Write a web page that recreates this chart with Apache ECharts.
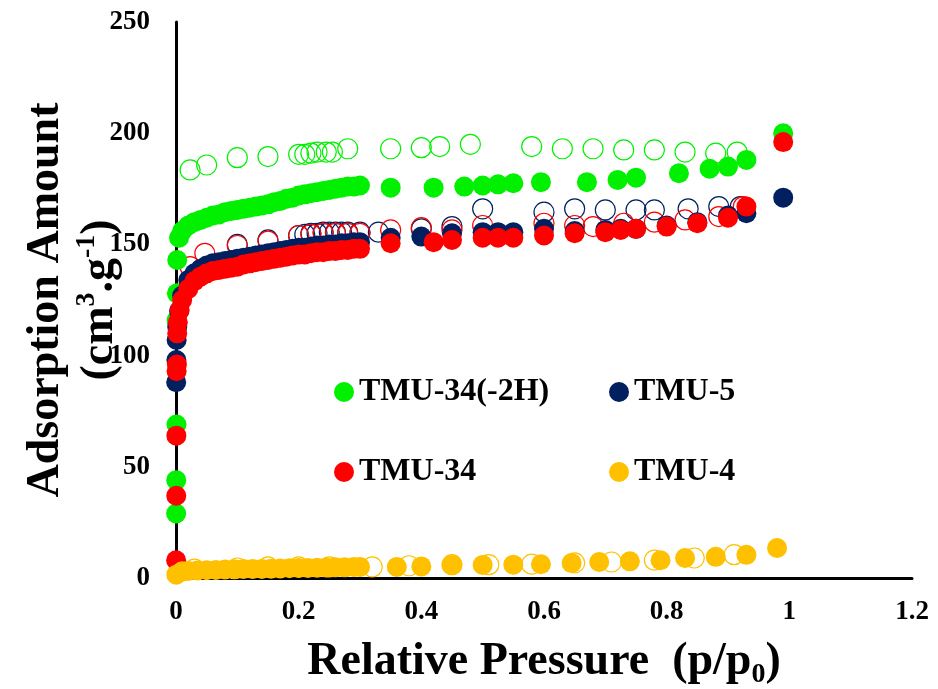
<!DOCTYPE html>
<html>
<head>
<meta charset="utf-8">
<script src="https://cdn.jsdelivr.net/npm/echarts@6/dist/echarts.min.js"></script>
<style>
html,body{margin:0;padding:0;background:#fff;}
#chart{width:938px;height:689px;}
</style>
</head>
<body>
<div id="chart"></div>
<script>
// ---- Data (p/p0, adsorbed amount) ----
const xTicks = [0, 0.2, 0.4, 0.6, 0.8, 1, 1.2];
const yTicks = [0, 50, 100, 150, 200, 250];

const tmu34_2H_ads = [[0.0002,29],[0.0004,44],[0.0008,69],[0.001,116],[0.0015,128],[0.002,143],[0.005,153],[0.01,156],[0.02,158.5],[0.03,160],[0.04,161],[0.05,162],[0.06,163],[0.07,163.5],[0.08,164.5],[0.09,165],[0.10,165.5],[0.11,166],[0.12,166.5],[0.13,167],[0.14,167.5],[0.15,168],[0.16,169],[0.17,169.5],[0.18,170.5],[0.19,171],[0.20,172],[0.21,172.5],[0.22,173],[0.23,173.5],[0.24,174],[0.25,174.5],[0.26,175],[0.27,175.5],[0.28,176],[0.29,176],[0.30,176.5],[0.35,175.5],[0.42,175.5],[0.47,176],[0.50,176.5],[0.525,177],[0.55,177.5],[0.595,178],[0.67,178],[0.72,179],[0.75,180],[0.82,182],[0.87,184],[0.90,185],[0.93,188],[0.99,200]];
const tmu34_2H_des = [[0.023,183.5],[0.05,185.7],[0.10,189],[0.15,189.5],[0.20,190.5],[0.21,190.5],[0.22,191],[0.23,191.5],[0.245,191.5],[0.255,191.5],[0.28,193],[0.35,193],[0.40,193.5],[0.43,194],[0.48,195],[0.58,194],[0.63,193],[0.68,193],[0.73,192.5],[0.78,192.5],[0.83,191.5],[0.88,191],[0.915,191.5]];

const tmu5_ads = [[0.0003,88],[0.0006,98],[0.001,107],[0.002,113],[0.005,120],[0.01,127],[0.02,134],[0.03,137],[0.04,139],[0.05,140.5],[0.06,141.5],[0.07,142],[0.08,142.5],[0.09,143],[0.10,143.5],[0.11,144],[0.12,144.5],[0.13,145],[0.14,145.5],[0.15,146],[0.16,146.5],[0.17,147],[0.18,147.5],[0.19,148],[0.20,148.5],[0.21,148.5],[0.22,149],[0.23,149.5],[0.24,149.5],[0.25,150],[0.26,150],[0.27,150.5],[0.28,150.5],[0.29,151],[0.30,151],[0.35,153],[0.40,153.5],[0.45,155],[0.50,155.5],[0.525,155.5],[0.55,155.5],[0.60,157],[0.65,156],[0.70,156.5],[0.725,157],[0.75,157],[0.80,158.5],[0.85,160],[0.90,163],[0.93,164],[0.99,171]];
const tmu5_des = [[0.10,150],[0.15,152],[0.20,154],[0.21,154.5],[0.22,155],[0.23,155],[0.24,155.5],[0.25,155.5],[0.26,155.5],[0.27,155.5],[0.28,155.5],[0.30,155.5],[0.33,155.5],[0.40,157],[0.45,158],[0.50,166],[0.60,164.5],[0.65,166],[0.70,165.5],[0.75,165.5],[0.78,165.5],[0.835,166],[0.885,167],[0.92,167]];

const tmu34_ads = [[0.0002,8],[0.0004,37],[0.0006,64],[0.001,93],[0.0015,96],[0.002,110],[0.003,115],[0.006,120.5],[0.01,125],[0.02,130],[0.03,133.5],[0.04,135.5],[0.05,137],[0.06,138],[0.07,138.5],[0.08,139],[0.09,139.5],[0.10,140],[0.11,141],[0.12,141.5],[0.13,142],[0.14,142.5],[0.15,143],[0.16,143.5],[0.17,144],[0.18,144.5],[0.19,145],[0.20,145.5],[0.21,145.5],[0.22,146],[0.23,146.5],[0.24,146.5],[0.25,147],[0.26,147],[0.27,147.5],[0.28,147.5],[0.29,148],[0.30,148],[0.35,150.5],[0.42,151],[0.45,152],[0.50,153],[0.525,153],[0.55,153],[0.60,154],[0.65,155],[0.70,155.5],[0.725,156.5],[0.75,157],[0.80,158],[0.85,159.5],[0.90,162],[0.93,167],[0.99,196]];
const tmu34_des = [[0.023,140],[0.047,146],[0.10,149.5],[0.15,151.5],[0.20,154],[0.22,154.5],[0.24,155],[0.26,155],[0.28,155],[0.30,155],[0.35,156.5],[0.40,157.5],[0.45,156.5],[0.50,158.5],[0.60,159.5],[0.65,158.5],[0.68,158],[0.73,159.5],[0.78,160],[0.83,161],[0.885,162.5],[0.925,167]];

const tmu4_ads = [[0.0005,1.5],[0.01,3],[0.02,3.2],[0.035,3.4],[0.05,3.5],[0.065,3.6],[0.08,3.8],[0.095,3.9],[0.11,4],[0.125,4],[0.14,4.1],[0.155,4.2],[0.17,4.3],[0.185,4.4],[0.20,4.5],[0.215,4.5],[0.23,4.6],[0.245,4.7],[0.26,4.8],[0.275,4.8],[0.29,4.9],[0.30,5],[0.36,5],[0.40,5.2],[0.45,5.8],[0.50,5.9],[0.55,6],[0.595,6.2],[0.645,6.7],[0.69,7.2],[0.74,7.5],[0.79,8],[0.83,9],[0.88,9.5],[0.93,10.4],[0.98,13.5]];
const tmu4_des = [[0.03,4],[0.10,4.5],[0.15,5],[0.20,5],[0.25,5],[0.32,5],[0.38,5.5],[0.45,6],[0.51,6],[0.58,6.2],[0.65,6.8],[0.71,7.2],[0.78,8],[0.845,9],[0.91,10.5]];

const names = ['TMU-34(-2H)', 'TMU-5', 'TMU-34', 'TMU-4'];
const colors = ['#00F000', '#002060', '#FF0000', '#FFC000'];

// ---- Chart ----
const FONT = '"Liberation Serif", "Times New Roman", serif';
const SYM = 20;

function filled(name, data, color) {
  return { name: name, type: 'scatter', data: data, symbol: 'circle', symbolSize: SYM,
    itemStyle: { color: color, opacity: 1 }, emphasis: { disabled: true }, z: 3 };
}
function open(name, data, color) {
  return { name: name + ' desorption', type: 'scatter', data: data, symbol: 'circle', symbolSize: SYM,
    itemStyle: { color: 'rgba(0,0,0,0)', borderColor: color, borderWidth: 1.2, opacity: 1 },
    emphasis: { disabled: true }, z: 2 };
}

const legendText = { fontFamily: FONT, fontWeight: 'bold', fontSize: 32, color: '#000', lineHeight: 34 };

const option = {
  animation: false,
  backgroundColor: '#fff',
  grid: { left: 176, top: 22, right: 26, bottom: 111, containLabel: false, outerBoundsMode: 'none' },
  xAxis: {
    type: 'value', min: xTicks[0], max: xTicks[xTicks.length - 1], interval: 0.2,
    axisLine: { show: true, onZero: false, lineStyle: { color: '#000', width: 3 } },
    axisTick: { show: false }, splitLine: { show: false },
    axisLabel: { margin: 21, fontFamily: FONT, fontWeight: 'bold', fontSize: 27, color: '#000',
      formatter: function (v) { return String(+v.toFixed(1)); } },
    name: 'Relative Pressure  (p/p{sub|0})', nameLocation: 'middle', nameGap: 57, nameMoveOverlap: false,
    nameTextStyle: { fontFamily: FONT, fontWeight: 'bold', fontSize: 46, color: '#000',
      rich: { sub: { fontFamily: FONT, fontWeight: 'bold', fontSize: 28, color: '#000', verticalAlign: 'bottom', padding: [26, 0, 0, 0] } } }
  },
  yAxis: {
    type: 'value', min: yTicks[0], max: yTicks[yTicks.length - 1], interval: 50,
    axisLine: { show: true, onZero: false, lineStyle: { color: '#000', width: 3 } },
    axisTick: { show: false }, splitLine: { show: false },
    axisLabel: { margin: 26, fontFamily: FONT, fontWeight: 'bold', fontSize: 27, color: '#000' },
    name: 'Adsorption Amount\n(cm{sup|3}.g{sup|-1})', nameLocation: 'middle', nameGap: 49, nameRotate: 90, nameMoveOverlap: false,
    nameTextStyle: { fontFamily: FONT, fontWeight: 'bold', fontSize: 46, color: '#000', lineHeight: 54,
      rich: { sup: { fontFamily: FONT, fontWeight: 'bold', fontSize: 28, color: '#000', verticalAlign: 'top', padding: [0, 0, 18, 0] } } }
  },
  legend: [
    { data: [names[0], names[2]], orient: 'vertical', left: 329, top: 370, itemWidth: 20, itemHeight: 20,
      itemGap: 46, textStyle: legendText, selectedMode: false, icon: 'circle' },
    { data: [names[1], names[3]], orient: 'vertical', left: 604, top: 370, itemWidth: 20, itemHeight: 20,
      itemGap: 46, textStyle: legendText, selectedMode: false, icon: 'circle' }
  ],
  series: [
    open(names[0], tmu34_2H_des, colors[0]),
    open(names[1], tmu5_des, colors[1]),
    open(names[2], tmu34_des, colors[2]),
    open(names[3], tmu4_des, colors[3]),
    filled(names[0], tmu34_2H_ads, colors[0]),
    filled(names[1], tmu5_ads, colors[1]),
    filled(names[2], tmu34_ads, colors[2]),
    filled(names[3], tmu4_ads, colors[3])
  ]
};

const chart = echarts.init(document.getElementById('chart'), null, { renderer: 'canvas' });
chart.setOption(option);
</script>
</body>
</html>
